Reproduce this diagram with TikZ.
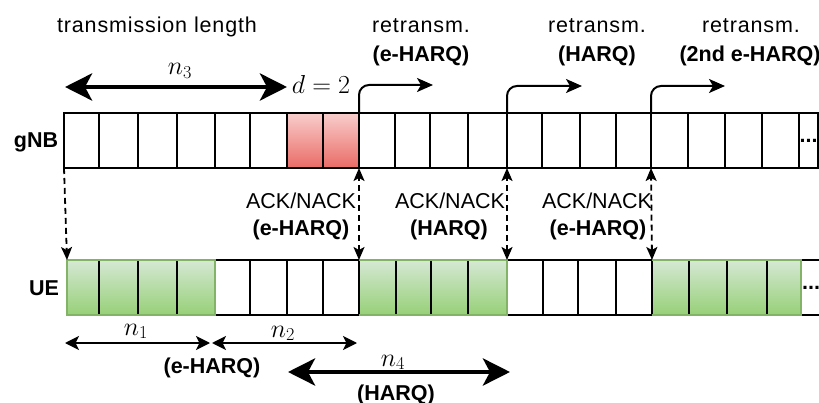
\documentclass[tikz,border=0pt]{standalone}
\usepackage{fix-cm}
\usepackage[no-math]{fontspec}
\setmainfont{Liberation Sans}
\usetikzlibrary{arrows.meta}
\definecolor{redtop}{HTML}{F8CECC}
\definecolor{redbot}{HTML}{EA6B66}
\definecolor{greentop}{HTML}{D5E8D4}
\definecolor{greenbot}{HTML}{97D077}
\definecolor{greenedge}{HTML}{82B366}
\begin{document}
\begin{tikzpicture}[x=1pt,y=-1pt,
  cellbox/.style={draw=black,line width=1.4pt,inner sep=0pt,outer sep=0pt,minimum height=55pt,anchor=north west,font=\fontsize{21.5}{24}\selectfont\bfseries},
  redcell/.style={cellbox,top color=redtop,bottom color=redbot},
  greencell/.style={cellbox,top color=greentop,bottom color=greenbot},
  txt/.style={font=\fontsize{21.5}{24}\selectfont,anchor=base,inner sep=0pt},
  ltxt/.style={font=\fontsize{21.5}{24}\selectfont\addfontfeatures{LetterSpace=4},anchor=base,inner sep=0pt},
  btxt/.style={font=\fontsize{21.5}{24}\selectfont\bfseries,anchor=base,inner sep=0pt},
  mth/.style={font=\fontsize{26}{30}\selectfont,anchor=base,inner sep=0pt},
  greenline/.style={draw=greenedge,line width=1.4pt},
  thickarrow/.style={line width=4.5pt,{Stealth[length=27pt,width=27pt,inset=7pt]}-{Stealth[length=27pt,width=27pt,inset=7pt]}},
  thinarrow/.style={line width=1.6pt,{Stealth[length=14pt,width=14pt,inset=3.5pt]}-{Stealth[length=14pt,width=14pt,inset=3.5pt]}},
  retr/.style={line width=2pt,rounded corners=10pt,-{Stealth[length=16pt,width=14pt,inset=4pt]}},
  dasharrow/.style={line width=1.8pt,dash pattern=on 6pt off 4pt},
  dtip/.tip={Stealth[length=13pt,width=11pt,inset=3pt]}
]
\useasboundingbox (0,0) rectangle (819,403);

% gNB row
\foreach \a/\b/\s [count=\i] in {64/99/cellbox,99/138/cellbox,138/177/cellbox,177/215/cellbox,215/250/cellbox,250/287/cellbox,287/323/redcell,323/359/redcell,359/395/cellbox,395/430/cellbox,430/468/cellbox,468/507/cellbox,507/542/cellbox,542/580/cellbox,580/616/cellbox,616/651/cellbox,651/688/cellbox,688/725/cellbox,725/762/cellbox,762/799/cellbox}
  \node[\s,minimum width={\b-\a}] (g\i) at (\a,113) {};
\node[cellbox,minimum width=19] (g21) at (799,113) {...};

% UE row
\foreach \a/\b/\s [count=\i] in {67/99/greencell,99/138/greencell,138/177/greencell,177/215/greencell,215/250/cellbox,250/287/cellbox,287/323/cellbox,323/359/cellbox,359/396/greencell,396/431/greencell,431/468/greencell,468/507/greencell,507/543/cellbox,543/578/cellbox,578/616/cellbox,616/652/cellbox,652/689/greencell,689/727/greencell,727/767/greencell,767/801/greencell}
  \node[\s,minimum width={\b-\a}] (u\i) at (\a,260) {};
\node[cellbox,minimum width=20] (u21) at (801,260) {...};

% green group outlines
\draw[greenline] (u1.south west) -- (u1.north west) -- (u4.north east) -- (u4.south east) -- cycle;
\draw[greenline] (u9.north west) -- (u12.north east) -- (u12.south east) -- (u9.south west);
\draw[greenline] (u17.north west) -- (u20.north east) -- (u20.south east) -- (u17.south west);

% row labels
\node[btxt] (gnb) at (36,148) {gNB};
\node[btxt] (ue) at (44,295) {UE};

% top labels
\node[ltxt] (tlen) at (157,33) {transmission length};
\coordinate (n3l) at (65,87);
\coordinate (n3r) at (287,87);
\draw[thickarrow] (n3l) -- (n3r);
\node[mth] (n3) at (180,75) {$n_3$};
\node[mth] (d2) at (321,94) {$d=2$};

\node[ltxt] (r1a) at (421,33) {retransm.};
\node[btxt] (r1b) at (421,62) {(e-HARQ)};
\node[ltxt] (r2a) at (597,33) {retransm.};
\node[btxt] (r2b) at (597,62) {(HARQ)};
\node[ltxt] (r3a) at (751,33) {retransm.};
\node[btxt] (r3b) at (750,62) {(2nd e-HARQ)};

% retransmission arrows
\draw[retr] (g9.north west) |- ++(74,-28);
\draw[retr] (g13.north west) |- ++(75,-27);
\draw[retr] (g17.north west) |- ++(74,-27);

% dashed arrows
\draw[dasharrow,-dtip] (g1.south west) -- (u1.north west);
\draw[dasharrow,dtip-dtip] (u9.north west) -- (g9.south west);
\draw[dasharrow,dtip-dtip] (u13.north west) -- (g13.south west);
\draw[dasharrow,dtip-dtip] (u17.north west) -- (g17.south west);

% ACK/NACK labels
\node[txt] (a1a) at (301,209) {ACK/NACK};
\node[btxt] (a1b) at (301,236) {(e-HARQ)};
\node[txt] (a2a) at (450,209) {ACK/NACK};
\node[btxt] (a2b) at (449,236) {(HARQ)};
\node[txt] (a3a) at (597,209) {ACK/NACK};
\node[btxt] (a3b) at (598,236) {(e-HARQ)};

% bottom
\coordinate (n1l) at (65,343);
\coordinate (n1r) at (210,343);
\coordinate (n2l) at (212,343);
\coordinate (n2r) at (357,343);
\draw[thinarrow] (n1l) -- (n1r);
\draw[thinarrow] (n2l) -- (n2r);
\node[mth] (n1) at (136,335) {$n_1$};
\node[mth] (n2) at (283,337) {$n_2$};
\node[btxt] (eh) at (212,373) {(e-HARQ)};
\coordinate (n4l) at (288,372);
\coordinate (n4r) at (510,372);
\draw[thickarrow] (n4l) -- (n4r);
\node[mth] (n4) at (393,366) {$n_4$};
\node[btxt] (hq) at (396,400) {(HARQ)};
\end{tikzpicture}
\end{document}
